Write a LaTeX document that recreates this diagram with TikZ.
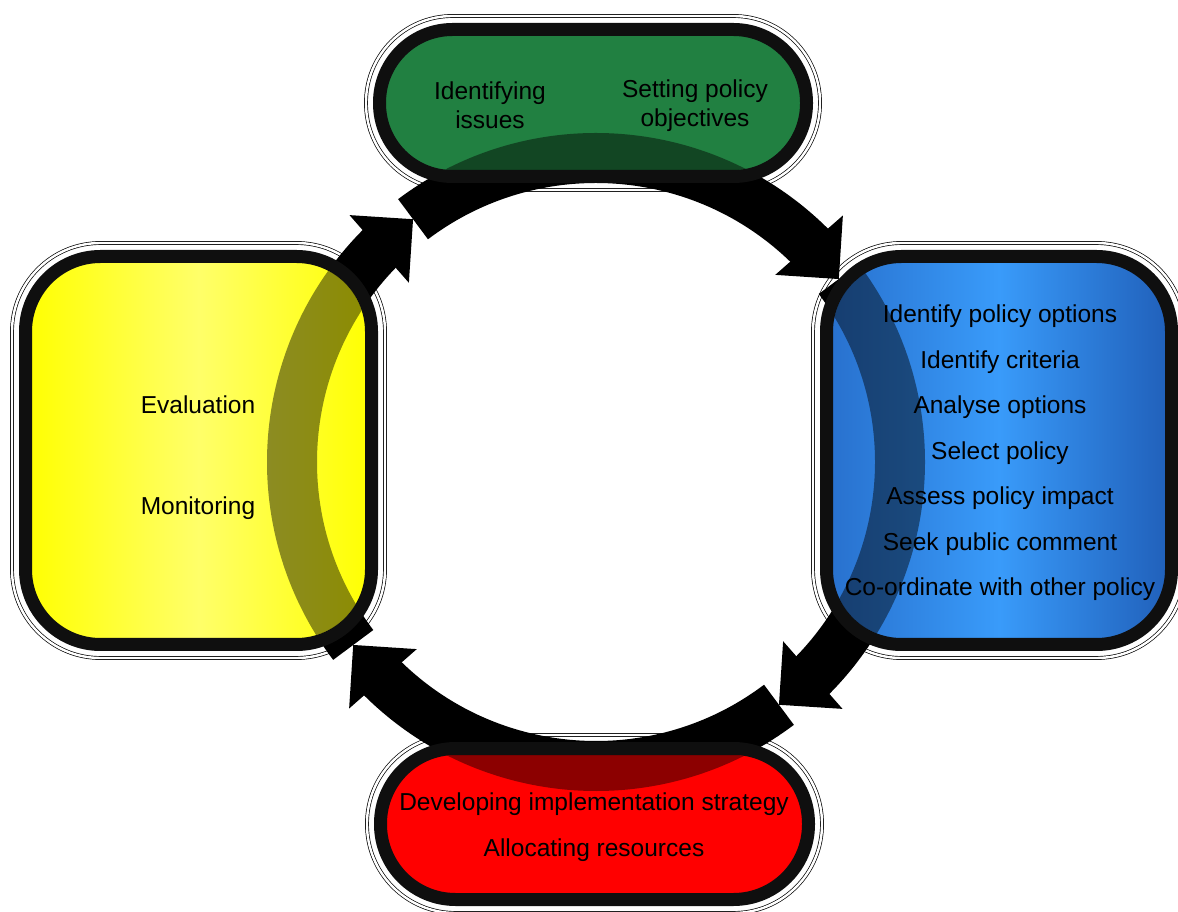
\documentclass[tikz,border=0pt]{standalone}
\usepackage{fontspec}
\setmainfont{Liberation Sans}
\usetikzlibrary{calc}
\pgfdeclarelayer{back}
\pgfsetlayers{back,main}
\definecolor{grnbox}{RGB}{33,128,65}
\definecolor{bluleft}{RGB}{40,112,205}
\definecolor{blumid}{RGB}{57,155,250}
\definecolor{bluright}{RGB}{32,95,185}
\definecolor{yelmid}{RGB}{255,255,105}
\definecolor{edge}{RGB}{15,15,15}
\newcommand\cyclering[1]{%
\foreach \s/\e/\t/\b in {127/43/37/45.5, 37/-47/-53/-44.5, -53/-137/-143/-134.5, -143/-227/-233/-224.5} {
\draw [#1, line width=50pt] ($(ctr)+(\s:304)$) arc [start angle=\s, end angle=\e, radius=304pt];
\coordinate (tip) at ($(ctr)+(\t:304)$);
\coordinate (bse) at ($(ctr)+(\b:304)$);
\fill [#1] (tip) -- ($(bse)!45pt!90:(tip)$) -- ($(bse)!45pt!-90:(tip)$) -- cycle;
}}
\newcommand\ringshade[2]{%
\begin{scope}
\clip [rounded corners=#2] ([shift={(6.5,6.5)}]#1.south west) rectangle ([shift={(-6.5,-6.5)}]#1.north east);
\cyclering{black, opacity=0.45}
\end{scope}}
\newcommand\halo[2]{%
\draw [black, line width=0.7pt, double=white, double distance=2.4pt, rounded corners=#2] ([shift={(-13.5,-13.5)}]#1.south west) rectangle ([shift={(13.5,13.5)}]#1.north east);}

\begin{document}
\begin{tikzpicture}[x=1pt, y=1pt,
box/.style={draw=edge, line width=13pt, outer sep=0pt, inner sep=0pt},
lbl/.style={font=\fontsize{24.5}{45.5}\selectfont, align=center, inner sep=0pt},
lbltop/.style={font=\fontsize{24.5}{29}\selectfont, align=center, inner sep=0pt}]
\useasboundingbox (0,0) rectangle (1178,911);
\coordinate (ctr) at (596,449);
\node [box, fill=grnbox, minimum width=427pt, minimum height=147pt, rounded corners=73pt] (grn) at (593,808) {};
\node [box, left color=yellow, right color=yellow, middle color=yelmid, minimum width=346pt, minimum height=388pt, rounded corners=75pt] (yel) at (198.5,460.5) {};
\node [box, left color=bluleft, right color=bluright, middle color=blumid, minimum width=345pt, minimum height=388pt, rounded corners=75pt] (blu) at (999,460.5) {};
\node [box, fill=red, minimum width=428pt, minimum height=151pt, rounded corners=75pt] (rd) at (594.5,87) {};
\begin{pgfonlayer}{back}
\halo{grn}{86.5pt}
\halo{yel}{88.5pt}
\halo{blu}{88.5pt}
\halo{rd}{88.5pt}
\cyclering{black}
\end{pgfonlayer}
\ringshade{grn}{66.5pt}
\ringshade{yel}{68.5pt}
\ringshade{blu}{68.5pt}
\ringshade{rd}{68.5pt}
\node [lbltop] (iss) at (490,806) {Identifying\\issues};
\node [lbltop] (obj) at (695,805) {Setting policy\\objectives};
\node [lbl] (evl) at (198,506) {Evaluation};
\node [lbl] (mon) at (198,403) {Monitoring};
\node [lbl] (opt) at (1000,458) {Identify policy options\\Identify criteria\\Analyse options\\Select policy\\Assess policy impact\\Seek public comment\\Co-ordinate with other policy};
\node [lbl] (imp) at (594,84) {Developing implementation strategy\\Allocating resources};
\end{tikzpicture}
\end{document}
